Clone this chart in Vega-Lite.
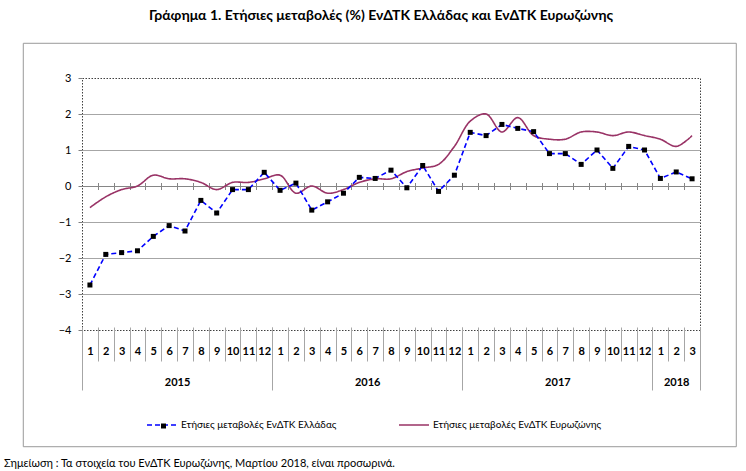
{
  "$schema": "https://vega.github.io/schema/vega-lite/v6.json",
  "width": 618,
  "height": 252,
  "autosize": {"type": "none"},
  "padding": {"left": 82, "top": 78, "right": 46, "bottom": 141},
  "background": "white",
  "title": {
    "text": "Γράφημα 1. Ετήσιες μεταβολές (%) ΕνΔΤΚ Ελλάδας και ΕνΔΤΚ Ευρωζώνης",
    "font": "Lato",
    "fontSize": 14,
    "fontWeight": "bold",
    "color": "black",
    "anchor": "middle",
    "offset": 18,
    "dx": -10
  },
  "config": {
    "font": "Lato",
    "view": {"stroke": "#404040", "strokeDash": [1.5, 1.5], "strokeWidth": 1}
  },
  "datasets": {
    "hicp": [
      {"i": 1, "series": "Ετήσιες μεταβολές ΕνΔΤΚ Ελλάδας", "v": -2.75},
      {"i": 2, "series": "Ετήσιες μεταβολές ΕνΔΤΚ Ελλάδας", "v": -1.9},
      {"i": 3, "series": "Ετήσιες μεταβολές ΕνΔΤΚ Ελλάδας", "v": -1.85},
      {"i": 4, "series": "Ετήσιες μεταβολές ΕνΔΤΚ Ελλάδας", "v": -1.8},
      {"i": 5, "series": "Ετήσιες μεταβολές ΕνΔΤΚ Ελλάδας", "v": -1.4},
      {"i": 6, "series": "Ετήσιες μεταβολές ΕνΔΤΚ Ελλάδας", "v": -1.1},
      {"i": 7, "series": "Ετήσιες μεταβολές ΕνΔΤΚ Ελλάδας", "v": -1.25},
      {"i": 8, "series": "Ετήσιες μεταβολές ΕνΔΤΚ Ελλάδας", "v": -0.4},
      {"i": 9, "series": "Ετήσιες μεταβολές ΕνΔΤΚ Ελλάδας", "v": -0.75},
      {"i": 10, "series": "Ετήσιες μεταβολές ΕνΔΤΚ Ελλάδας", "v": -0.1},
      {"i": 11, "series": "Ετήσιες μεταβολές ΕνΔΤΚ Ελλάδας", "v": -0.1},
      {"i": 12, "series": "Ετήσιες μεταβολές ΕνΔΤΚ Ελλάδας", "v": 0.38},
      {"i": 13, "series": "Ετήσιες μεταβολές ΕνΔΤΚ Ελλάδας", "v": -0.12},
      {"i": 14, "series": "Ετήσιες μεταβολές ΕνΔΤΚ Ελλάδας", "v": 0.08},
      {"i": 15, "series": "Ετήσιες μεταβολές ΕνΔΤΚ Ελλάδας", "v": -0.67},
      {"i": 16, "series": "Ετήσιες μεταβολές ΕνΔΤΚ Ελλάδας", "v": -0.44},
      {"i": 17, "series": "Ετήσιες μεταβολές ΕνΔΤΚ Ελλάδας", "v": -0.2},
      {"i": 18, "series": "Ετήσιες μεταβολές ΕνΔΤΚ Ελλάδας", "v": 0.24},
      {"i": 19, "series": "Ετήσιες μεταβολές ΕνΔΤΚ Ελλάδας", "v": 0.21},
      {"i": 20, "series": "Ετήσιες μεταβολές ΕνΔΤΚ Ελλάδας", "v": 0.44},
      {"i": 21, "series": "Ετήσιες μεταβολές ΕνΔΤΚ Ελλάδας", "v": -0.05},
      {"i": 22, "series": "Ετήσιες μεταβολές ΕνΔΤΚ Ελλάδας", "v": 0.57},
      {"i": 23, "series": "Ετήσιες μεταβολές ΕνΔΤΚ Ελλάδας", "v": -0.15},
      {"i": 24, "series": "Ετήσιες μεταβολές ΕνΔΤΚ Ελλάδας", "v": 0.3},
      {"i": 25, "series": "Ετήσιες μεταβολές ΕνΔΤΚ Ελλάδας", "v": 1.49},
      {"i": 26, "series": "Ετήσιες μεταβολές ΕνΔΤΚ Ελλάδας", "v": 1.4},
      {"i": 27, "series": "Ετήσιες μεταβολές ΕνΔΤΚ Ελλάδας", "v": 1.71},
      {"i": 28, "series": "Ετήσιες μεταβολές ΕνΔΤΚ Ελλάδας", "v": 1.6},
      {"i": 29, "series": "Ετήσιες μεταβολές ΕνΔΤΚ Ελλάδας", "v": 1.51},
      {"i": 30, "series": "Ετήσιες μεταβολές ΕνΔΤΚ Ελλάδας", "v": 0.9},
      {"i": 31, "series": "Ετήσιες μεταβολές ΕνΔΤΚ Ελλάδας", "v": 0.9},
      {"i": 32, "series": "Ετήσιες μεταβολές ΕνΔΤΚ Ελλάδας", "v": 0.6},
      {"i": 33, "series": "Ετήσιες μεταβολές ΕνΔΤΚ Ελλάδας", "v": 1.0},
      {"i": 34, "series": "Ετήσιες μεταβολές ΕνΔΤΚ Ελλάδας", "v": 0.49},
      {"i": 35, "series": "Ετήσιες μεταβολές ΕνΔΤΚ Ελλάδας", "v": 1.1},
      {"i": 36, "series": "Ετήσιες μεταβολές ΕνΔΤΚ Ελλάδας", "v": 1.0},
      {"i": 37, "series": "Ετήσιες μεταβολές ΕνΔΤΚ Ελλάδας", "v": 0.21},
      {"i": 38, "series": "Ετήσιες μεταβολές ΕνΔΤΚ Ελλάδας", "v": 0.39},
      {"i": 39, "series": "Ετήσιες μεταβολές ΕνΔΤΚ Ελλάδας", "v": 0.2},
      {"i": 1, "series": "Ετήσιες μεταβολές ΕνΔΤΚ Ευρωζώνης", "v": -0.6},
      {"i": 2, "series": "Ετήσιες μεταβολές ΕνΔΤΚ Ευρωζώνης", "v": -0.3},
      {"i": 3, "series": "Ετήσιες μεταβολές ΕνΔΤΚ Ευρωζώνης", "v": -0.1},
      {"i": 4, "series": "Ετήσιες μεταβολές ΕνΔΤΚ Ευρωζώνης", "v": 0.0},
      {"i": 5, "series": "Ετήσιες μεταβολές ΕνΔΤΚ Ευρωζώνης", "v": 0.3},
      {"i": 6, "series": "Ετήσιες μεταβολές ΕνΔΤΚ Ευρωζώνης", "v": 0.2},
      {"i": 7, "series": "Ετήσιες μεταβολές ΕνΔΤΚ Ευρωζώνης", "v": 0.2},
      {"i": 8, "series": "Ετήσιες μεταβολές ΕνΔΤΚ Ευρωζώνης", "v": 0.1},
      {"i": 9, "series": "Ετήσιες μεταβολές ΕνΔΤΚ Ευρωζώνης", "v": -0.1},
      {"i": 10, "series": "Ετήσιες μεταβολές ΕνΔΤΚ Ευρωζώνης", "v": 0.1},
      {"i": 11, "series": "Ετήσιες μεταβολές ΕνΔΤΚ Ευρωζώνης", "v": 0.1},
      {"i": 12, "series": "Ετήσιες μεταβολές ΕνΔΤΚ Ευρωζώνης", "v": 0.2},
      {"i": 13, "series": "Ετήσιες μεταβολές ΕνΔΤΚ Ευρωζώνης", "v": 0.3},
      {"i": 14, "series": "Ετήσιες μεταβολές ΕνΔΤΚ Ευρωζώνης", "v": -0.2},
      {"i": 15, "series": "Ετήσιες μεταβολές ΕνΔΤΚ Ευρωζώνης", "v": 0.0},
      {"i": 16, "series": "Ετήσιες μεταβολές ΕνΔΤΚ Ευρωζώνης", "v": -0.2},
      {"i": 17, "series": "Ετήσιες μεταβολές ΕνΔΤΚ Ευρωζώνης", "v": -0.1},
      {"i": 18, "series": "Ετήσιες μεταβολές ΕνΔΤΚ Ευρωζώνης", "v": 0.1},
      {"i": 19, "series": "Ετήσιες μεταβολές ΕνΔΤΚ Ευρωζώνης", "v": 0.2},
      {"i": 20, "series": "Ετήσιες μεταβολές ΕνΔΤΚ Ευρωζώνης", "v": 0.2},
      {"i": 21, "series": "Ετήσιες μεταβολές ΕνΔΤΚ Ευρωζώνης", "v": 0.4},
      {"i": 22, "series": "Ετήσιες μεταβολές ΕνΔΤΚ Ευρωζώνης", "v": 0.5},
      {"i": 23, "series": "Ετήσιες μεταβολές ΕνΔΤΚ Ευρωζώνης", "v": 0.6},
      {"i": 24, "series": "Ετήσιες μεταβολές ΕνΔΤΚ Ευρωζώνης", "v": 1.1},
      {"i": 25, "series": "Ετήσιες μεταβολές ΕνΔΤΚ Ευρωζώνης", "v": 1.8},
      {"i": 26, "series": "Ετήσιες μεταβολές ΕνΔΤΚ Ευρωζώνης", "v": 2.0},
      {"i": 27, "series": "Ετήσιες μεταβολές ΕνΔΤΚ Ευρωζώνης", "v": 1.5},
      {"i": 28, "series": "Ετήσιες μεταβολές ΕνΔΤΚ Ευρωζώνης", "v": 1.9},
      {"i": 29, "series": "Ετήσιες μεταβολές ΕνΔΤΚ Ευρωζώνης", "v": 1.4},
      {"i": 30, "series": "Ετήσιες μεταβολές ΕνΔΤΚ Ευρωζώνης", "v": 1.3},
      {"i": 31, "series": "Ετήσιες μεταβολές ΕνΔΤΚ Ευρωζώνης", "v": 1.3},
      {"i": 32, "series": "Ετήσιες μεταβολές ΕνΔΤΚ Ευρωζώνης", "v": 1.5},
      {"i": 33, "series": "Ετήσιες μεταβολές ΕνΔΤΚ Ευρωζώνης", "v": 1.5},
      {"i": 34, "series": "Ετήσιες μεταβολές ΕνΔΤΚ Ευρωζώνης", "v": 1.4},
      {"i": 35, "series": "Ετήσιες μεταβολές ΕνΔΤΚ Ευρωζώνης", "v": 1.5},
      {"i": 36, "series": "Ετήσιες μεταβολές ΕνΔΤΚ Ευρωζώνης", "v": 1.4},
      {"i": 37, "series": "Ετήσιες μεταβολές ΕνΔΤΚ Ευρωζώνης", "v": 1.3},
      {"i": 38, "series": "Ετήσιες μεταβολές ΕνΔΤΚ Ευρωζώνης", "v": 1.1},
      {"i": 39, "series": "Ετήσιες μεταβολές ΕνΔΤΚ Ευρωζώνης", "v": 1.4}
    ]
  },
  "data": {"name": "hicp"},
  "resolve": {"axis": {"x": "independent", "y": "independent"}},
  "layer": [
    {
      "transform": [{"filter": {"field": "series", "equal": "Ετήσιες μεταβολές ΕνΔΤΚ Ευρωζώνης"}}],
      "mark": {"type": "line", "interpolate": "catmull-rom", "strokeWidth": 1.6},
      "encoding": {
        "x": {
          "field": "i",
          "type": "quantitative",
          "scale": {"domain": [0.5, 39.5], "nice": false, "zero": false},
          "axis": {
            "orient": "bottom",
            "title": null,
            "values": [0.5, 12.5, 24.5, 36.5, 39.5],
            "labels": false,
            "domain": false,
            "grid": false,
            "offset": -3,
            "tickSize": 63,
            "tickColor": "#a6a6a6",
            "tickWidth": 1
          }
        },
        "y": {
          "field": "v",
          "type": "quantitative",
          "scale": {"domain": [-4, 3], "nice": false, "zero": false},
          "axis": {
            "orient": "left",
            "title": null,
            "values": [-4, -3, -2, -1, 0, 1, 2, 3],
            "domain": false,
            "grid": false,
            "tickSize": 4,
            "tickColor": "#808080",
            "labelPadding": 7,
            "labelFont": "Lato",
            "labelFontSize": 11,
            "labelColor": "black",
            "labelOverlap": false,
            "labelFlush": false,
            "labelBound": false
          }
        },
        "color": {
          "field": "series",
          "type": "nominal",
          "scale": {
            "domain": ["Ετήσιες μεταβολές ΕνΔΤΚ Ελλάδας", "Ετήσιες μεταβολές ΕνΔΤΚ Ευρωζώνης"],
            "range": ["#0000ff", "#993366"]
          },
          "legend": {
            "title": null,
            "orient": "none",
            "legendX": 64,
            "legendY": 331,
            "direction": "horizontal",
            "columns": 2,
            "symbolType": "stroke",
            "symbolSize": 900,
            "symbolStrokeWidth": 1.6,
            "labelFont": "Lato",
            "labelFontSize": 10,
            "labelColor": "black",
            "labelOffset": 3,
            "labelLimit": 400,
            "columnPadding": 58,
            "padding": 0
          }
        },
        "strokeDash": {
          "field": "series",
          "type": "nominal",
          "scale": {
            "domain": ["Ετήσιες μεταβολές ΕνΔΤΚ Ελλάδας", "Ετήσιες μεταβολές ΕνΔΤΚ Ευρωζώνης"],
            "range": [[5, 3], [1, 0]]
          },
          "legend": {
            "title": null,
            "orient": "none",
            "legendX": 64,
            "legendY": 331,
            "direction": "horizontal",
            "columns": 2,
            "symbolType": "stroke",
            "symbolSize": 900,
            "symbolStrokeWidth": 1.6,
            "labelFont": "Lato",
            "labelFontSize": 10,
            "labelColor": "black",
            "labelOffset": 3,
            "labelLimit": 400,
            "columnPadding": 58,
            "padding": 0
          }
        }
      }
    },
    {
      "transform": [{"filter": {"field": "series", "equal": "Ετήσιες μεταβολές ΕνΔΤΚ Ελλάδας"}}],
      "mark": {"type": "line", "strokeWidth": 1.6},
      "encoding": {
        "x": {
          "field": "i",
          "type": "quantitative",
          "axis": {
            "orient": "bottom",
            "title": null,
            "values": [0.5, 1.5, 2.5, 3.5, 4.5, 5.5, 6.5, 7.5, 8.5, 9.5, 10.5, 11.5, 12.5, 13.5, 14.5, 15.5, 16.5, 17.5, 18.5, 19.5, 20.5, 21.5, 22.5, 23.5, 24.5, 25.5, 26.5, 27.5, 28.5, 29.5, 30.5, 31.5, 32.5, 33.5, 34.5, 35.5, 36.5, 37.5, 38.5, 39.5],
            "labels": false,
            "domain": false,
            "grid": false,
            "offset": -3,
            "tickSize": 34,
            "tickColor": "#a6a6a6",
            "tickWidth": 1
          }
        },
        "y": {
          "field": "v",
          "type": "quantitative",
          "axis": {
            "orient": "left",
            "title": null,
            "values": [-3, -2, -1, 1, 2],
            "labels": false,
            "ticks": false,
            "domain": false,
            "grid": true,
            "gridColor": "#a6a6a6",
            "gridWidth": 1
          }
        },
        "color": {"field": "series", "type": "nominal"},
        "strokeDash": {"field": "series", "type": "nominal"}
      }
    },
    {
      "transform": [{"filter": {"field": "series", "equal": "Ετήσιες μεταβολές ΕνΔΤΚ Ελλάδας"}}],
      "mark": {"type": "point", "filled": true, "color": "black", "opacity": 1, "size": 25},
      "encoding": {
        "x": {
          "field": "i",
          "type": "quantitative",
          "axis": {
            "orient": "bottom",
            "title": null,
            "values": [1, 2, 3, 4, 5, 6, 7, 8, 9, 10, 11, 12, 13, 14, 15, 16, 17, 18, 19, 20, 21, 22, 23, 24, 25, 26, 27, 28, 29, 30, 31, 32, 33, 34, 35, 36, 37, 38, 39],
            "labelExpr": "'' + ((datum.value - 1) % 12 + 1)",
            "ticks": false,
            "domain": false,
            "grid": false,
            "labelPadding": 21,
            "labelBaseline": "middle",
            "labelFont": "Lato",
            "labelFontSize": 11,
            "labelFontWeight": "bold",
            "labelColor": "black",
            "labelFlush": false,
            "labelOverlap": false,
            "labelBound": false
          }
        },
        "y": {
          "field": "v",
          "type": "quantitative",
          "axis": {
            "orient": "left",
            "title": null,
            "values": [0],
            "labels": false,
            "ticks": false,
            "domain": false,
            "grid": true,
            "gridColor": "#868686",
            "gridWidth": 1
          }
        },
        "shape": {
          "datum": "Ετήσιες μεταβολές ΕνΔΤΚ Ελλάδας",
          "scale": {"range": ["square"]},
          "legend": {
            "title": null,
            "orient": "none",
            "legendX": 76.5,
            "legendY": 343,
            "labelExpr": "''",
            "symbolSize": 25,
            "symbolFillColor": "black",
            "symbolStrokeColor": "black",
            "symbolStrokeWidth": 0,
            "padding": 0
          }
        }
      }
    },
    {
      "data": {"values": [{}]},
      "mark": {
        "type": "point",
        "shape": "M-1,-0.5658H1V0.5658H-1Z",
        "size": 508369,
        "filled": false,
        "color": "#9a9a9a",
        "opacity": 1,
        "strokeWidth": 1,
        "clip": false
      },
      "encoding": {
        "x": {
          "datum": 19.293,
          "type": "quantitative",
          "axis": {
            "orient": "bottom",
            "title": null,
            "values": [6.5, 18.5, 30.5, 38],
            "labelExpr": "datum.value < 12 ? '2015' : datum.value < 24 ? '2016' : datum.value < 36 ? '2017' : '2018'",
            "ticks": false,
            "domain": false,
            "grid": false,
            "labelPadding": 52,
            "labelBaseline": "middle",
            "labelFont": "Lato",
            "labelFontSize": 11,
            "labelFontWeight": "bold",
            "labelColor": "black",
            "labelFlush": false,
            "labelOverlap": false,
            "labelBound": false
          }
        },
        "y": {"datum": -1.639, "type": "quantitative", "axis": null}
      }
    },
    {
      "data": {"values": [{}]},
      "mark": {
        "type": "text",
        "text": "Σημείωση :  Τα στοιχεία του ΕνΔΤΚ Ευρωζώνης, Μαρτίου 2018, είναι προσωρινά.",
        "align": "left",
        "baseline": "alphabetic",
        "font": "Lato",
        "fontSize": 11,
        "color": "black"
      },
      "encoding": {
        "x": {
          "datum": -4.42,
          "type": "quantitative",
          "axis": {
            "orient": "top",
            "title": null,
            "offset": -111.5,
            "values": [1.5, 2.5, 3.5, 4.5, 5.5, 6.5, 7.5, 8.5, 9.5, 10.5, 11.5, 12.5, 13.5, 14.5, 15.5, 16.5, 17.5, 18.5, 19.5, 20.5, 21.5, 22.5, 23.5, 24.5, 25.5, 26.5, 27.5, 28.5, 29.5, 30.5, 31.5, 32.5, 33.5, 34.5, 35.5, 36.5, 37.5, 38.5],
            "labels": false,
            "domain": false,
            "grid": false,
            "tickSize": 7,
            "tickColor": "#868686",
            "tickWidth": 1
          }
        },
        "y": {"datum": -7.806, "type": "quantitative", "axis": null}
      }
    }
  ]
}
